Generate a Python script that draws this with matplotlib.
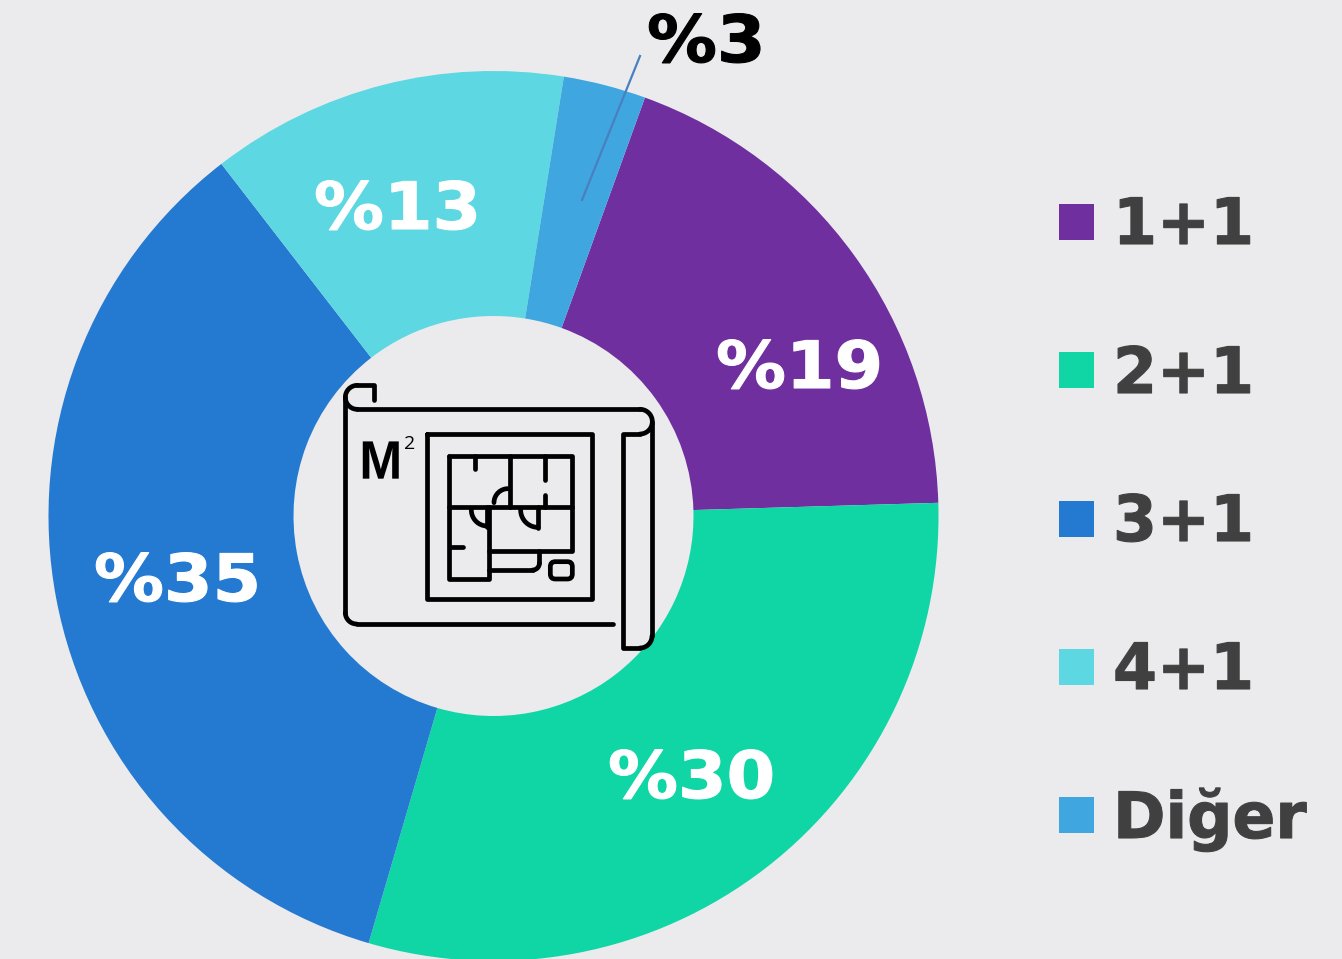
import numpy as np
import matplotlib
matplotlib.use('Agg')
import matplotlib.pyplot as plt
import matplotlib.patheffects as pe
from matplotlib.patches import Rectangle, FancyBboxPatch
from matplotlib.transforms import Affine2D

categories = ['1+1', '2+1', '3+1', '4+1', 'Diğer']
values = [19, 30, 35, 13, 3]
colors = ['#6f2f9e', '#10d6a6', '#2479d0', '#5dd8e2', '#3fa6df']
pct_labels = ['%19', '%30', '%35', '%13', '%3']
pct_left = [716, 608, 94, 314, 647]
pct_base = [388, 798, 601, 229, 62]
pct_colors = ['white', 'white', 'white', 'white', 'black']
legend_top = [204, 352, 501, 649, 797]
legend_base = [244, 393, 541, 689, 838]

W, H = 1342, 959
bg = '#ebebed'
LW = 3.4


class WideBold(pe.AbstractPathEffect):
  # the font in the picture is wider and heavier than DejaVu Bold
  def __init__(self, sx, lw=0.0):
    super().__init__()
    self.sx = sx
    self.lw = lw

  def draw_path(self, renderer, gc, tpath, affine, rgbFace=None):
    gc0 = renderer.new_gc()
    gc0.copy_properties(gc)
    gc0.set_linewidth(self.lw)
    gc0.set_foreground(rgbFace)
    renderer.draw_path(gc0, tpath, Affine2D().scale(self.sx, 1) + affine, rgbFace)
    gc0.restore()


fig = plt.figure(figsize=(W / 100, H / 100), dpi=100, facecolor=bg)
ax = fig.add_axes([0, 0, 1, 1])

def Y(y):
  return H - y

# donut
ax.pie(values, colors=colors, startangle=70.1, counterclock=False,
       center=(493.5, Y(516)), radius=445,
       wedgeprops={'width': 245, 'linewidth': 0})
ax.set_xlim(0, W)
ax.set_ylim(0, H)
ax.set_aspect('equal')
ax.axis('off')

for s, x, y, c in zip(pct_labels, pct_left, pct_base, pct_colors):
  ax.text(x, Y(y), s, color=c, fontsize=47, fontweight='bold',
          ha='left', va='baseline', family='DejaVu Sans',
          path_effects=[WideBold(1.07, 0.8)])

# leader line for the small slice
ax.plot([640, 582], [Y(56), Y(200)], color='#4a7fc0', lw=1.6)

# legend
for cat, c, top, base in zip(categories, colors, legend_top, legend_base):
  ax.add_patch(Rectangle((1059, Y(top + 36)), 35, 36, color=c, lw=0))
  ax.text(1113, Y(base), cat, color='#404040', fontsize=46, fontweight='bold',
          ha='left', va='baseline', family='DejaVu Sans',
          path_effects=[WideBold(0.99, 0.8)])

# floor plan icon, coords
def zx(x):
  return 330 + x / 3

def zy(y):
  return Y(370 + y / 3)

def line(pts):
  ax.plot([zx(p[0]) for p in pts], [zy(p[1]) for p in pts], color='black',
          lw=LW, solid_capstyle='round', solid_joinstyle='round')

def arc(cx, cy, r, a0, a1):
  t = np.radians(np.linspace(a0, a1, 30))
  ax.plot(zx(cx) + r / 3 * np.cos(t), zy(cy) + r / 3 * np.sin(t), color='black',
          lw=LW, solid_capstyle='round')

# sheet outline
line([(133, 90), (133, 46), (82, 46)])
arc(82, 82, 36, 90, 270)
line([(46, 82), (46, 730)])
arc(80, 728, 34, 180, 270)
line([(80, 762), (850, 762)])
line([(82, 118), (930, 118)])
arc(930, 155, 37, 90, -90)
line([(930, 192), (880, 192), (880, 834), (930, 834)])
arc(930, 798, 36, -90, 0)
line([(966, 798), (966, 155)])

# frame and plan
line([(292, 192), (787, 192), (787, 687), (292, 687), (292, 192)])
line([(356, 258), (725, 258), (725, 544), (478, 544)])
line([(356, 258), (356, 626), (478, 626), (478, 410)])
line([(356, 410), (725, 410)])
line([(540, 258), (540, 410)])
line([(436, 258), (436, 298)])
line([(644, 258), (644, 330)])
line([(644, 376), (644, 410)])
line([(360, 530), (398, 530)])
line([(478, 600), (608, 600)])
arc(608, 580, 20, -90, 0)
line([(628, 544), (628, 580)])
line([(624, 410), (624, 474)])
arc(624, 420, 52, -90, -180)
line([(470, 410), (470, 472)])
arc(472, 420, 48, -90, -180)
arc(534, 398, 42, 90, 180)
ax.add_patch(FancyBboxPatch((zx(661), zy(627)), (727 - 661) / 3, (627 - 575) / 3,
                            boxstyle='round,pad=0,rounding_size=5', fc='none', ec='black', lw=LW))
ax.text(zx(88), zy(326), 'M', fontsize=39, color='black', ha='left', va='baseline',
        family=['Liberation Sans Narrow', 'Liberation Sans'], fontweight='bold',
        path_effects=[WideBold(0.95)])
ax.text(zx(222), zy(238), '2', fontsize=14, color='black', ha='left', va='baseline',
        family='Open Sans')

fig.savefig('out.png', dpi=100, facecolor=bg)
